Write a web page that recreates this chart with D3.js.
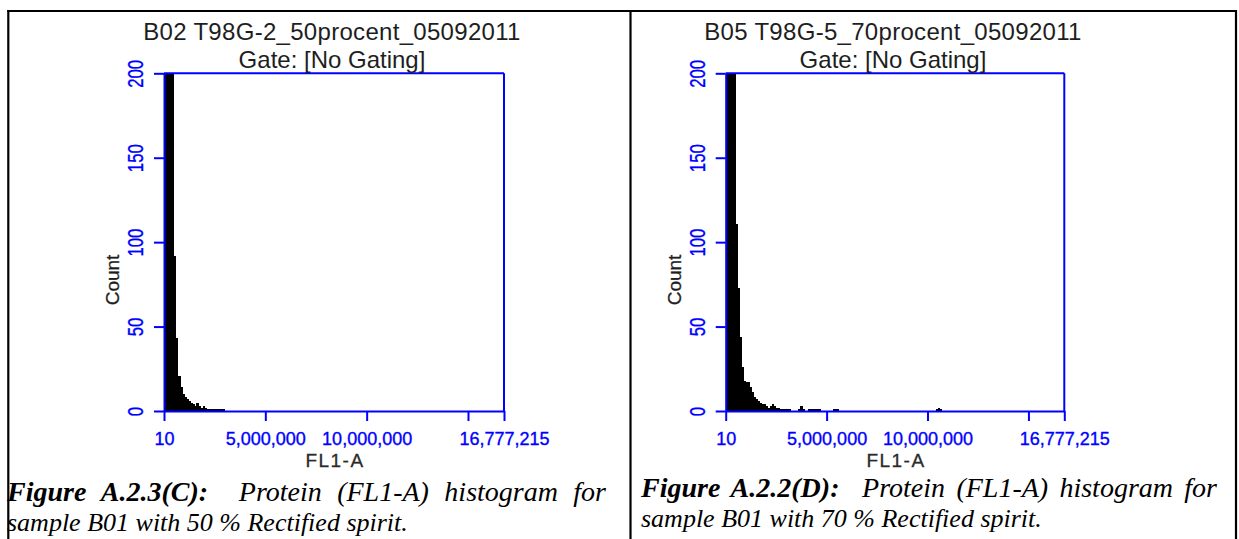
<!DOCTYPE html>
<html>
<head>
<meta charset="utf-8">
<script src="https://cdn.jsdelivr.net/npm/d3@7"></script>
<style>
  html, body { margin: 0; padding: 0; background: #ffffff; }
  svg { display: block; }
  .caption { white-space: pre; }
</style>
</head>
<body>
<svg id="fig" width="1239" height="539"></svg>
<script>
// ---- data ----------------------------------------------------------------
// FL1-A histogram bin width (channel units) and per-bin event counts
const binWidth = 100000;

const countsB02 = [480, 1150, 860, 450, 240, 92, 43, 21, 14, 10,
                   8, 7, 6, 5, 4, 3, 5, 3, 2, 3,
                   2, 1, 1, 1, 1, 1, 1, 1, 1, 1];

const countsB05 = [520, 1300, 1000, 560, 280, 111, 73, 44, 26, 18,
                   17, 17, 14, 11, 8, 7, 6, 5, 4, 4,
                   3, 2, 3, 4, 3, 2, 2, 1, 1, 1,
                   1, 1, 0, 0, 0, 0, 1, 3, 1, 0,
                   0, 1, 1, 1, 1, 1, 1, 0, 0, 0,
                   0, 0, 0, 1, 1, 1, 0, 0, 0, 0,
                   0, 0, 0, 0, 0, 0, 0, 0, 0, 0,
                   0, 0, 0, 0, 0, 0, 0, 0, 0, 0,
                   0, 0, 0, 0, 0, 0, 0, 0, 0, 0,
                   0, 0, 0, 0, 0, 0, 0, 0, 0, 0,
                   0, 0, 0, 0, 1, 2, 1];

const xDomain = [10, 16777215];
const xTickValues = [10, 5000000, 10000000, 15000000, 16777215];
const xTickLabels = ["10", "5,000,000", "10,000,000", "", "16,777,215"];
const yDomain = [0, 200];
const yTickValues = [0, 50, 100, 150, 200];

const sampleTitles = ["B02 T98G-2_50procent_05092011", "B05 T98G-5_70procent_05092011"];
const gateTitle = "Gate: [No Gating]";
const xLabel = "FL1-A";
const yLabel = "Count";

const captionLabels = ["Figure A.2.3(C):", "Figure A.2.2(D):"];
const captionLine1 = "  Protein (FL1-A) histogram for";
const captionLine2 = ["sample B01 with 50 % Rectified spirit.",
                      "sample B01 with 70 % Rectified spirit."];

// ---- layout --------------------------------------------------------------
const BLUE = "#0000ff";
const SANS = "'Liberation Sans', Arial, sans-serif";
const SERIF = "'Liberation Serif', 'Times New Roman', serif";

const panels = [
  { counts: countsB02, left: 164, right: 504, capX: 7, capY1: 501, capY2: 531, capWidth: 599 },
  { counts: countsB05, left: 725.7, right: 1064.3, capX: 641, capY1: 497, capY2: 527, capWidth: 576 }
];
const plotTop = 73.3, plotBottom = 411;

const svg = d3.select("#fig");

// table frame around the two figures
const frame = svg.append("g").attr("stroke", "#000").attr("stroke-width", 2.2);
frame.append("line").attr("x1", 7.2).attr("x2", 1237).attr("y1", 11).attr("y2", 11);
frame.append("line").attr("x1", 8.3).attr("x2", 8.3).attr("y1", 10).attr("y2", 539);
frame.append("line").attr("x1", 630.5).attr("x2", 630.5).attr("y1", 10).attr("y2", 539);
frame.append("line").attr("x1", 1236).attr("x2", 1236).attr("y1", 10).attr("y2", 539);

panels.forEach((p, k) => {
  const g = svg.append("g");
  const x = d3.scaleLinear().domain(xDomain).range([p.left, p.right]);
  const y = d3.scaleLinear().domain(yDomain).range([plotBottom, plotTop]);
  const cx = (p.left + p.right) / 2;

  // clip the histogram to the plotting region (counts above 200 are cut off)
  const clipId = "plotclip" + k;
  g.append("clipPath").attr("id", clipId)
    .append("rect")
    .attr("x", p.left).attr("y", y(yDomain[1]))
    .attr("width", p.right - p.left).attr("height", y(0) - y(yDomain[1]));

  g.append("g").attr("clip-path", `url(#${clipId})`)
    .selectAll("rect")
    .data(p.counts.map((c, i) => ({ x0: xDomain[0] + i * binWidth, x1: xDomain[0] + (i + 1) * binWidth, c })))
    .join("rect")
    .filter(d => d.c > 0)
    .attr("x", d => x(d.x0))
    .attr("width", d => x(d.x1) - x(d.x0) + 0.3)
    .attr("y", d => y(d.c))
    .attr("height", d => y(0) - y(d.c))
    .attr("fill", "#000")
    .attr("shape-rendering", "crispEdges");

  // bottom axis
  const xAxis = g.append("g")
    .attr("transform", `translate(0,${plotBottom})`)
    .call(d3.axisBottom(x)
      .tickValues(xTickValues)
      .tickFormat((d, i) => xTickLabels[i])
      .tickSize(10).tickSizeOuter(0).tickPadding(11));
  xAxis.select(".domain").attr("stroke", BLUE).attr("stroke-width", 2);
  xAxis.selectAll(".tick line").attr("stroke", BLUE).attr("stroke-width", 2);
  xAxis.selectAll(".tick text")
    .attr("fill", BLUE).attr("stroke", BLUE).attr("stroke-width", 0.35)
    .style("font-family", SANS).style("font-size", "18px");

  // left axis with rotated labels
  const yAxis = g.append("g")
    .attr("transform", `translate(${p.left},0)`)
    .call(d3.axisLeft(y).tickValues(yTickValues).tickSize(10).tickSizeOuter(0));
  yAxis.select(".domain").attr("stroke", BLUE).attr("stroke-width", 2);
  yAxis.selectAll(".tick line").attr("stroke", BLUE).attr("stroke-width", 2);
  yAxis.selectAll(".tick text")
    .attr("x", null).attr("dy", null)
    .attr("transform", "translate(-21,0) rotate(-90) scale(0.76,1)")
    .attr("text-anchor", "middle")
    .attr("fill", BLUE).attr("stroke", BLUE).attr("stroke-width", 0.35)
    .style("font-family", SANS).style("font-size", "22px");

  // top and right edges of the plot box
  g.append("line")
    .attr("x1", p.left).attr("x2", p.right)
    .attr("y1", y(yDomain[1])).attr("y2", y(yDomain[1]))
    .attr("stroke", BLUE).attr("stroke-width", 2);
  g.append("line")
    .attr("x1", p.right).attr("x2", p.right)
    .attr("y1", y(yDomain[1])).attr("y2", y(0))
    .attr("stroke", BLUE).attr("stroke-width", 2);

  // titles
  g.append("text").attr("x", cx - 2).attr("y", 40)
    .attr("text-anchor", "middle").attr("fill", "#1e1e1e")
    .style("font-family", SANS).style("font-size", "24px").style("letter-spacing", "0.3px")
    .text(sampleTitles[k]);
  g.append("text").attr("x", cx - 2).attr("y", 68)
    .attr("text-anchor", "middle").attr("fill", "#1e1e1e")
    .style("font-family", SANS).style("font-size", "24px")
    .text(gateTitle);

  // axis titles
  g.append("text").attr("x", cx + 1).attr("y", 467)
    .attr("text-anchor", "middle").attr("fill", "#2a2a2a")
    .attr("stroke", "#2a2a2a").attr("stroke-width", 0.3)
    .style("font-family", SANS).style("font-size", "19px").style("letter-spacing", "1.5px")
    .text(xLabel);
  g.append("text")
    .attr("transform", `translate(${p.left - 45},280) rotate(-90)`)
    .attr("text-anchor", "middle").attr("fill", "#1e1e1e")
    .attr("stroke", "#1e1e1e").attr("stroke-width", 0.3)
    .style("font-family", SANS).style("font-size", "19px")
    .text(yLabel);

  // figure caption; the first line is justified to the column width
  const cap = g.append("text").attr("class", "caption")
    .attr("x", p.capX).attr("y", p.capY1)
    .attr("fill", "#000")
    .style("font-family", SERIF).style("font-size", "28px").style("font-style", "italic");
  cap.append("tspan").style("font-weight", "bold").text(captionLabels[k]);
  cap.append("tspan").text(captionLine1);
  const natural = cap.node().getComputedTextLength();
  const spaces = (captionLabels[k] + captionLine1).split(" ").length - 1;
  cap.style("word-spacing", Math.max(0, (p.capWidth - natural) / spaces) + "px");

  g.append("text").attr("class", "caption")
    .attr("x", p.capX).attr("y", p.capY2)
    .attr("fill", "#000")
    .style("font-family", SERIF).style("font-size", "26px").style("font-style", "italic")
    .text(captionLine2[k]);
});
</script>
</body>
</html>
